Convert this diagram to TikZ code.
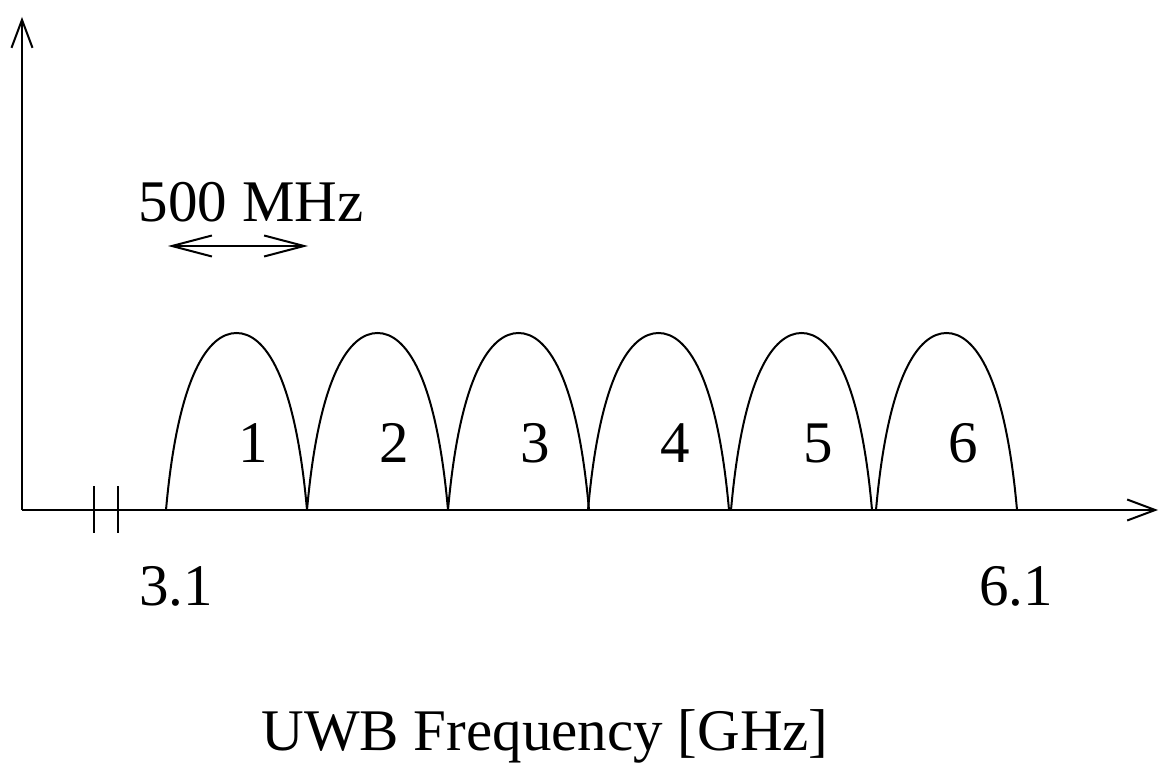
\documentclass[tikz,border=0pt]{standalone}
\usepackage{fontspec}
\setmainfont{Liberation Serif}
\usetikzlibrary{arrows.meta}

\begin{document}
\begin{tikzpicture}[
    x=0.5pt, y=-0.5pt,
    line width=1pt,
    label/.style={font=\fontsize{29.5}{35}\selectfont, inner sep=0pt, anchor=base},
    axis/.style={-{Straight Barb[length=14pt, width=10.5pt]}},
    span/.style={{Straight Barb[length=20pt, width=10.5pt]}-{Straight Barb[length=20pt, width=10.5pt]}}
  ]
    \useasboundingbox (0,0) rectangle (1159,764);

    % axes
    \coordinate (origin) at (22,510);
    \coordinate (ytop) at (22,17);
    \coordinate (xend) at (1158,510);
    \draw[axis] (origin) -- (ytop);
    \draw[axis] (origin) -- (xend);

    % axis break
    \draw (94,486) -- (94,533);
    \draw (118,486) -- (118,533);

    % sub-bands
    \foreach \x/\n in {166/1, 307/2, 448/3, 588/4, 731/5, 876/6} {
      \draw (\x,510) .. controls +(12,-135) and +(-28,0) .. ++(70.5,-177)
                     .. controls +(28,0) and +(-12,-135) .. ++(70.5,177);
      \node[label] (band\n) at (\x+87,462) {\n};
    }

    % band width
    \node[label] (width) at (251,222) {500 MHz};
    \coordinate (wleft) at (168,246);
    \coordinate (wright) at (308,246);
    \draw[span] (wleft) -- (wright);

    % frequency marks
    \node[label] (low) at (176,605) {3.1};
    \node[label] (high) at (1016,605) {6.1};
    \node[label] (title) at (545,750) {UWB Frequency [GHz]};
  \end{tikzpicture}
\end{document}
